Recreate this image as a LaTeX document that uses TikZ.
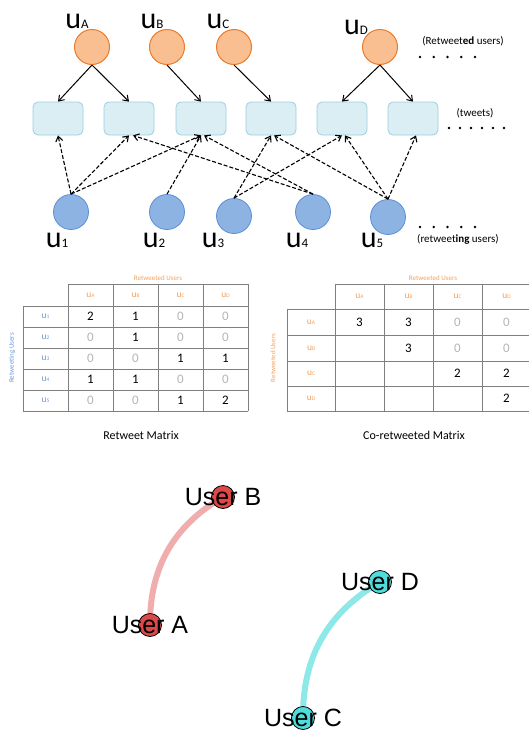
\documentclass[tikz,border=0pt]{standalone}
\usepackage{fontspec}
\setmainfont{Carlito}
\newfontfamily\graphfont{Liberation Sans}
\usetikzlibrary{arrows.meta}

\definecolor{retwfill}{HTML}{F9BF91}
\definecolor{retwline}{HTML}{EC7A2C}
\definecolor{usrfill}{HTML}{8DB3E2}
\definecolor{usrline}{HTML}{5C8FD6}
\definecolor{twfill}{HTML}{DAEEF3}
\definecolor{twline}{HTML}{98D0DE}
\definecolor{zerogray}{HTML}{B4B4B4}
\definecolor{gridgray}{HTML}{7F7F7F}
\definecolor{mblue}{HTML}{6A9AD9}
\definecolor{morange}{HTML}{F5A05A}
\definecolor{userred}{HTML}{DD4848}
\definecolor{usercyan}{HTML}{50DCDC}

\newcommand*{\ulabel}[1]{u{\fontsize{13}{13}\selectfont #1}}
\newcommand*{\mlabel}[1]{u{\fontsize{5.5}{5.5}\selectfont #1}}
\newcommand*{\cellval}[1]{\if#10\textcolor{zerogray}{0}\else\if#1x\else#1\fi\fi}

\tikzset{
  retweeted/.style={circle, draw=retwline, fill=retwfill, line width=1pt,
    minimum size=35pt, inner sep=0pt},
  retweeting/.style={circle, draw=usrline, fill=usrfill, line width=0.8pt,
    minimum size=35pt, inner sep=0pt},
  tweet/.style={rectangle, rounded corners=5pt, draw=twline, fill=twfill,
    line width=0.8pt, minimum width=50pt, minimum height=33pt},
  ulab/.style={font=\fontsize{30}{30}\selectfont, inner sep=0pt},
  note/.style={font=\fontsize{11}{13}\selectfont, inner sep=0pt},
  wrote/.style={-{Straight Barb[length=5pt,width=7pt]}, line width=1pt},
  shared/.style={-{Straight Barb[length=5pt,width=7pt]}, line width=1.1pt,
    dash pattern=on 4pt off 2pt},
  mgrid/.style={draw=gridgray, line width=0.7pt},
  mhead/.style={font=\fontsize{9.5}{9.5}\selectfont, inner sep=0pt},
  mval/.style={font=\fontsize{13}{13}\selectfont, inner sep=0pt},
  mtitle/.style={font=\fontsize{7}{7}\selectfont, text=morange, inner sep=0pt},
  caption/.style={font=\fontsize{12}{12}\selectfont, inner sep=0pt},
  gnode/.style={circle, draw=black, line width=0.8pt, minimum size=23pt, inner sep=0pt},
  glab/.style={font=\graphfont\fontsize{25}{25}\selectfont, inner sep=0pt},
  gedge/.style={line width=6pt}
}

\begin{document}
\begin{tikzpicture}[x=1pt, y=-1pt]
  \useasboundingbox (0,0) rectangle (529,731);
  \clip (0,0) rectangle (529,731);

  % retweeted users
  \node[retweeted] (vA) at (92,47) {};
  \node[retweeted] (vB) at (167,47) {};
  \node[retweeted] (vC) at (234,47) {};
  \node[retweeted] (vD) at (380,47) {};
  \node[ulab] (lA) at (77,21) {\ulabel{A}};
  \node[ulab] (lB) at (152,21) {\ulabel{B}};
  \node[ulab] (lC) at (218,21) {\ulabel{C}};
  \node[ulab] (lD) at (356,27) {\ulabel{D}};

  % tweets
  \foreach \n/\x in {1/58,2/129,3/201,4/271,5/342,6/413}{
    \node[tweet] (t\n) at (\x,118.5) {};
  }

  % retweeting users
  \node[retweeting] (v1) at (71,212) {};
  \node[retweeting] (v2) at (167,212) {};
  \node[retweeting] (v3) at (234,216) {};
  \node[retweeting] (v4) at (313,212) {};
  \node[retweeting] (v5) at (388,217) {};
  \node[ulab] (l1) at (57,240) {\ulabel{1}};
  \node[ulab] (l2) at (154,240) {\ulabel{2}};
  \node[ulab] (l3) at (213,240) {\ulabel{3}};
  \node[ulab] (l4) at (297,240) {\ulabel{4}};
  \node[ulab] (l5) at (372,240) {\ulabel{5}};

  % who wrote which tweet
  \draw[wrote] (vA.south) -- (t1.north);
  \draw[wrote] (vA.south) -- (t2.north);
  \draw[wrote] (vB.south) -- (t3.north);
  \draw[wrote] (vC.south) -- (t4.north);
  \draw[wrote] (vD.south) -- (t5.north);
  \draw[wrote] (vD.south) -- (t6.north);

  % who retweeted which tweet
  \draw[shared] (v1.north) -- (t1.south);
  \draw[shared] (v1.north) -- (t2.south);
  \draw[shared] (v1.north) -- (t3.south);
  \draw[shared] (v2.north) -- (t3.south);
  \draw[shared] (v3.north) -- (t4.south);
  \draw[shared] (v3.north) -- (t5.south);
  \draw[shared] (v4.north) -- ([xshift=4pt]t2.south);
  \draw[shared] (v4.north) -- ([xshift=3pt]t3.south);
  \draw[shared] (v5.north) -- ([xshift=3pt]t4.south);
  \draw[shared] (v5.north) -- ([xshift=3pt]t5.south);
  \draw[shared] (v5.north) -- ([xshift=3pt]t6.south);

  \node[note] (nRetweeted) at (463,41) {(Retweet\textbf{ed} users)};
  \node[note] (nTweets) at (475,113) {(tweets)};
  \node[note] (nRetweeting) at (458,239) {(retweet\textbf{ing} users)};
  \foreach \x in {420,433.75,...,476}{
    \fill (\x,57) circle(1.3pt);
    \fill (\x,227) circle(1.3pt);
  }
  \foreach \x in {449,460,...,505}{
    \fill (\x,128) circle(1.3pt);
  }

  % retweet matrix
  \node[mtitle] (rmTitle) at (158,278) {Retweeted Users};
  \node[mtitle, text=mblue, rotate=90] (rmSide) at (12,358) {Retweeting Users};
  \draw[mgrid] (68,284) -- (248,284);
  \foreach \x in {68,113,158,203,248}{
    \draw[mgrid] (\x,284) -- (\x,411);
  }
  \foreach \y in {306,327,348,369,390,411}{
    \draw[mgrid] (23,\y) -- (248,\y);
  }
  \draw[mgrid] (23,306) -- (23,411);
  \foreach \x/\lab in {90.5/A,135.5/B,180.5/C,225.5/D}{
    \node[mhead, text=morange] (rmh\lab) at (\x,295) {\mlabel{\lab}};
  }
  \foreach \r/\y/\a/\b/\c/\d in {1/316.5/2/1/0/0, 2/337.5/0/1/0/0,
      3/358.5/0/0/1/1, 4/379.5/1/1/0/0, 5/400.5/0/0/1/2}{
    \node[mhead, text=mblue] (rmr\r) at (45.5,\y) {\mlabel{\r}};
    \node[mval] (rm\r a) at (90.5,\y) {\cellval{\a}};
    \node[mval] (rm\r b) at (135.5,\y) {\cellval{\b}};
    \node[mval] (rm\r c) at (180.5,\y) {\cellval{\c}};
    \node[mval] (rm\r d) at (225.5,\y) {\cellval{\d}};
  }
  \node[caption] (rmCaption) at (141,435) {Retweet Matrix};

  % co-retweeted matrix
  \node[mtitle] (cmTitle) at (433,278) {Retweeted Users};
  \node[mtitle, rotate=90] (cmSide) at (273,358) {Retweeted Users};
  \draw[mgrid] (335,284) -- (531,284);
  \foreach \x in {335,384,433,482,531}{
    \draw[mgrid] (\x,284) -- (\x,411);
  }
  \foreach \y in {309,335,361,386,411}{
    \draw[mgrid] (287,\y) -- (531,\y);
  }
  \draw[mgrid] (287,309) -- (287,411);
  \foreach \x/\lab in {359.5/A,408.5/B,457.5/C,506.5/D}{
    \node[mhead, text=morange] (cmh\lab) at (\x,296.5) {\mlabel{\lab}};
  }
  \foreach \r/\y/\a/\b/\c/\d in {A/322/3/3/0/0, B/348/x/3/0/0,
      C/373.5/x/x/2/2, D/398.5/x/x/x/2}{
    \node[mhead, text=morange] (cmr\r) at (311,\y) {\mlabel{\r}};
    \node[mval] (cm\r a) at (359.5,\y) {\cellval{\a}};
    \node[mval] (cm\r b) at (408.5,\y) {\cellval{\b}};
    \node[mval] (cm\r c) at (457.5,\y) {\cellval{\c}};
    \node[mval] (cm\r d) at (506.5,\y) {\cellval{\d}};
  }
  \node[caption] (cmCaption) at (414,435) {Co-retweeted Matrix};

  % co-retweet graph
  \coordinate (pA) at (150,625);
  \coordinate (pB) at (223,497);
  \coordinate (pC) at (303,718);
  \coordinate (pD) at (380,582);
  \draw[gedge, draw=userred!45] (pA) to[bend left=30] (pB);
  \draw[gedge, draw=usercyan!65] (pC) to[bend left=30] (pD);
  \node[gnode, fill=userred] (gA) at (pA) {};
  \node[gnode, fill=userred] (gB) at (pB) {};
  \node[gnode, fill=usercyan] (gC) at (pC) {};
  \node[gnode, fill=usercyan] (gD) at (pD) {};
  \node[glab] (gAl) at (gA) {User A};
  \node[glab] (gBl) at (gB) {User B};
  \node[glab] (gCl) at (gC) {User C};
  \node[glab] (gDl) at (gD) {User D};
\end{tikzpicture}
\end{document}
